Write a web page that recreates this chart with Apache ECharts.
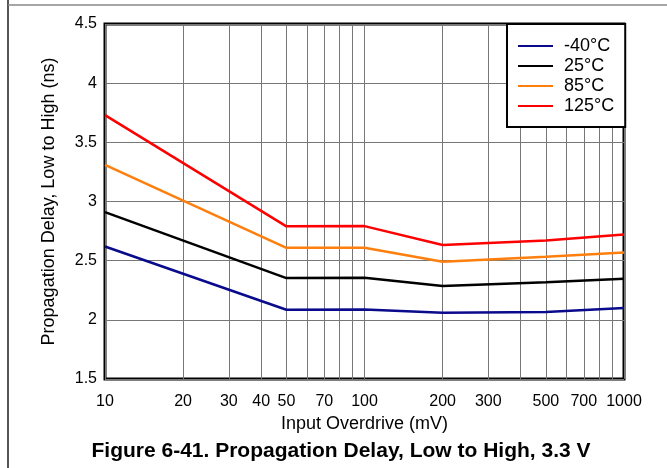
<!DOCTYPE html>
<html>
<head>
<meta charset="utf-8">
<script src="https://cdn.jsdelivr.net/npm/echarts@6/dist/echarts.min.js"></script>
<style>
html,body{margin:0;padding:0;background:#fff;}
#chart{width:667px;height:468px;}
</style>
</head>
<body>
<div id="chart"></div>
<script>
// Data
const overdrive = [10, 50, 100, 200, 500, 1000];           // mV
const delayM40  = [2.62, 2.085, 2.088, 2.060, 2.066, 2.100]; // -40°C
const delay25   = [2.91, 2.353, 2.355, 2.285, 2.317, 2.347]; // 25°C
const delay85   = [3.31, 2.609, 2.609, 2.491, 2.533, 2.570]; // 85°C
const delay125  = [3.73, 2.790, 2.792, 2.632, 2.671, 2.722]; // 125°C
const seriesNames = ['-40°C', '25°C', '85°C', '125°C'];
const seriesColors = ['#0a0a8c', '#000000', '#ff7f0e', '#ff0000'];
const xGridValues = [10,20,30,40,50,60,70,80,90,100,200,300,400,500,600,700,800,900,1000];
const xLabelValues = [10,20,30,40,50,70,100,200,300,500,700,1000];
const yTicks = [1.5, 2, 2.5, 3, 3.5, 4, 4.5];

const font = 'Arial, "Liberation Sans", sans-serif';
const allSeries = [delayM40, delay25, delay85, delay125];

const chart = echarts.init(document.getElementById('chart'), null, {renderer: 'canvas'});
chart.setOption({
  animation: false,
  backgroundColor: '#fff',
  textStyle: {fontFamily: font},
  grid: {left: 105, right: 43, top: 24, bottom: 89, show: true, borderColor: '#000', borderWidth: 3, backgroundColor: 'transparent'},
  xAxis: {
    type: 'log', logBase: 10, min: 10, max: 1000,
    axisLine: {show: false},
    axisTick: {show: false, customValues: xGridValues},
    minorTick: {show: false},
    axisLabel: {customValues: xLabelValues, color: '#000', fontSize: 16, fontFamily: font, margin: 15,
                formatter: v => String(Math.round(v))},
    splitLine: {show: true, lineStyle: {color: '#777', width: 1}},
    name: 'Input Overdrive (mV)', nameLocation: 'middle', nameGap: 33,
    nameTextStyle: {color: '#000', fontSize: 18, fontFamily: font}
  },
  yAxis: {
    type: 'value', min: yTicks[0], max: yTicks[yTicks.length - 1], interval: 0.5,
    axisLine: {show: false},
    axisTick: {show: false},
    axisLabel: {color: '#000', fontSize: 16, fontFamily: font, margin: 8},
    splitLine: {show: true, lineStyle: {color: '#777', width: 1}},
    name: 'Propagation Delay, Low to High (ns)', nameLocation: 'middle', nameGap: 47,
    nameTextStyle: {color: '#000', fontSize: 18, fontFamily: font}
  },
  legend: {
    orient: 'vertical', left: 507, top: 24,
    padding: [13, 11, 12, 10],
    itemWidth: 35, itemHeight: 14, itemGap: 2,
    backgroundColor: '#fff', borderColor: '#000', borderWidth: 2,
    itemStyle: {opacity: 0},
    textStyle: {color: '#000', fontSize: 18, fontFamily: font, lineHeight: 18, padding: [0, 0, 0, 6]},
    data: seriesNames
  },
  series: allSeries.map((vals, i) => ({
    name: seriesNames[i],
    type: 'line',
    symbol: 'none',
    data: overdrive.map((x, j) => [x, vals[j]]),
    lineStyle: {color: seriesColors[i], width: 2.5},
    itemStyle: {color: seriesColors[i]},
    z: 3
  })),
  graphic: [
    {type: 'line', shape: {x1: 8, y1: 0, x2: 8, y2: 468}, style: {stroke: '#555', lineWidth: 2}},
    {type: 'line', shape: {x1: 8, y1: 5, x2: 667, y2: 5}, style: {stroke: '#888', lineWidth: 1.5}},
    {type: 'text', x: 341, y: 451,
     style: {text: 'Figure 6-41. Propagation Delay, Low to High, 3.3 V', font: 'bold 21px ' + font, fill: '#000',
             align: 'center', verticalAlign: 'middle'}}
  ]
});
</script>
</body>
</html>
